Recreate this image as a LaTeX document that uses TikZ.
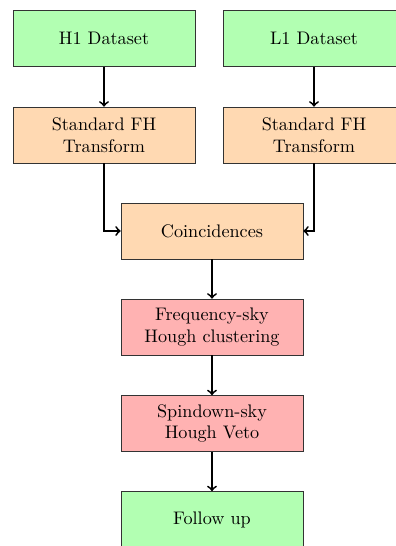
\documentclass[tikz,border=0pt]{standalone}
\usetikzlibrary{positioning}
\begin{document}
\begin{tikzpicture}[x=0.55pt,y=-0.55pt,
  box/.style={draw=black!80, minimum width=100pt, minimum height=30.8pt, align=center, inner sep=2pt},
  data/.style={box, fill=green!30},
  proc/.style={box, fill=orange!30},
  hough/.style={box, fill=red!30},
  conn/.style={line width=1pt, ->}]
\useasboundingbox (0,0) rectangle (395,546);
\node[data] (h1) at (104,38.5) {H1 Dataset};
\node[data] (l1) at (314,38.5) {L1 Dataset};
\node[proc] (fh1) at (104,135) {Standard FH\\Transform};
\node[proc] (fh2) at (314,135) {Standard FH\\Transform};
\node[proc] (coin) at (212,231) {Coincidences};
\node[hough] (freq) at (212,327) {Frequency-sky\\Hough clustering};
\node[hough] (spin) at (212,423.5) {Spindown-sky\\Hough Veto};
\node[data] (fol) at (212,519.5) {Follow up};
\draw[conn] (h1) -- (fh1);
\draw[conn] (l1) -- (fh2);
\draw[conn] (fh1.south) |- (coin.west);
\draw[conn] (fh2.south) |- (coin.east);
\draw[conn] (coin) -- (freq);
\draw[conn] (freq) -- (spin);
\draw[conn] (spin) -- (fol);
\end{tikzpicture}
\end{document}
